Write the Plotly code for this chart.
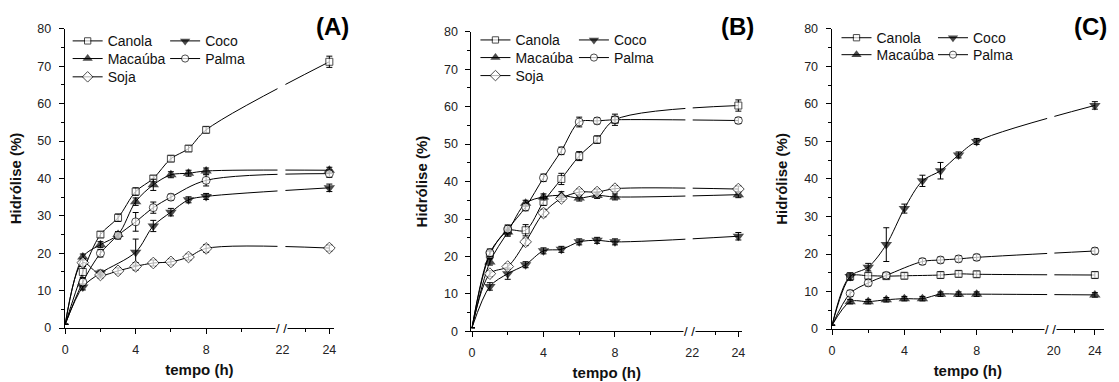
import plotly.graph_objects as go

# ---------------- data (hours / % hydrolysis) ----------------
T = [0, 1, 2, 3, 4, 5, 6, 7, 8, 24]
SERIES = ["Canola", "Coco", "Macaúba", "Palma", "Soja"]

# Panel A
A_canola = [1, 15.0, 25.0, 29.5, 36.5, 40.0, 45.3, 48.0, 53.0, 71.2]
A_coco = [1, 11.0, 14.7, None, 20.3, 27.3, 31.0, 34.3, 35.2, 37.5]
A_macauba = [1, 19.0, 22.3, 25.0, 33.8, 38.3, 41.0, 41.4, 42.0, 42.2]
A_palma = [1, 12.3, 20.0, 24.8, 28.4, 32.2, 35.0, None, 39.5, 41.3]
A_soja = [1, 17.5, 14.2, 15.3, 16.5, 17.4, 17.7, 19.0, 21.3, 21.4]
A_canola_err = [0, 1.5, 0.8, 1.0, 1.0, 0.8, 0.8, 0.8, 0.8, 1.5]
A_coco_err = [0, 0.8, 0.8, 0, 3.5, 1.5, 1.0, 0.8, 0.8, 1.0]
A_macauba_err = [0, 0.8, 0.8, 0.8, 1.0, 1.5, 0.8, 0.8, 0.8, 0.8]
A_palma_err = [0, 1.0, 1.0, 1.0, 2.5, 1.5, 0.8, 0, 1.5, 1.0]
A_soja_err = [0, 1.0, 0.8, 0.8, 1.0, 0.8, 0.8, 0.8, 1.0, 0.8]

# Panel B
B_canola = [1, 20.5, 26.9, 27.0, 34.6, 40.7, 46.8, 51.2, 56.5, 60.3]
B_coco = [1, 12.0, 15.4, 17.8, 21.5, 21.9, 23.9, 24.3, 23.9, 25.4]
B_macauba = [1, 18.5, 26.5, 34.2, 35.9, 36.3, 35.6, 36.3, 35.9, 36.5]
B_palma = [1, 21.0, 27.3, 33.2, 41.0, 48.2, 55.9, 56.2, 56.5, 56.3]
B_soja = [1, 15.4, 17.3, 23.9, 31.6, 35.5, 37.2, 37.2, 38.1, 38.0]
B_canola_err = [0, 1.0, 1.5, 1.5, 1.0, 1.5, 1.2, 1.0, 1.5, 1.5]
B_coco_err = [0, 1.0, 1.5, 0.8, 0.8, 0.8, 0.8, 0.8, 0.8, 1.0]
B_macauba_err = [0, 0.8, 0.8, 0.8, 0.8, 1.0, 0.8, 0.8, 0.8, 0.8]
B_palma_err = [0, 1.0, 1.0, 1.0, 1.0, 1.0, 1.3, 0.8, 0.8, 0.8]
B_soja_err = [0, 0.8, 0.8, 1.0, 1.0, 0.8, 0.8, 0.8, 0.8, 0.8]

# Panel C
C_canola = [1, 14.0, 14.2, 14.1, 14.2, None, 14.4, 14.7, 14.6, 14.4]
C_coco = [1, 14.0, 16.5, 22.5, 32.1, 39.5, 42.2, 46.4, 50.0, 59.6]
C_macauba = [1, 7.3, 7.3, 7.8, 8.1, 8.1, 9.3, 9.3, 9.3, 9.1]
C_palma = [1, 9.5, 12.3, 14.3, None, 18.0, 18.4, 18.7, 19.1, 20.8]
C_canola_err = [0, 0.8, 0.8, 0.8, 0.8, 0, 0.8, 0.8, 0.8, 0.8]
C_coco_err = [0, 1.0, 1.0, 4.5, 1.2, 1.5, 2.2, 0.8, 0.8, 1.0]
C_macauba_err = [0, 0.6, 0.6, 0.6, 0.6, 0.6, 0.6, 0.6, 0.6, 0.6]
C_palma_err = [0, 0.8, 0.8, 0.8, 0, 0.8, 0.8, 0.8, 0.8, 0.8]

X_TICKS_AB = [0, 4, 8, 22, 24]
X_MINOR_AB = [2, 6, 10, 23]
X_TICKS_C = [0, 4, 8, 20, 24]
X_MINOR_C = [2, 6, 10, 22]
Y_TICKS = [0, 10, 20, 30, 40, 50, 60, 70, 80]

# ---------------- styles ----------------
W, H = 1119, 382
STYLE = {
    "Canola": dict(symbol="square", size=7, color="white", line=dict(color="black", width=1)),
    "Coco": dict(symbol="triangle-down", size=10, color="black", line=dict(color="black", width=0)),
    "Macaúba": dict(symbol="triangle-up", size=10, color="black", line=dict(color="black", width=0)),
    "Palma": dict(symbol="circle", size=8, color="white", line=dict(color="black", width=1)),
    "Soja": dict(symbol="diamond", size=9, color="white", line=dict(color="black", width=1)),
}
# legend slot for each series: (column, row)
SLOT = {"Canola": (0, 0), "Coco": (1, 0), "Macaúba": (0, 1), "Palma": (1, 1), "Soja": (0, 2)}

panels = [
    dict(label="(A)", data={"Canola": (A_canola, A_canola_err), "Coco": (A_coco, A_coco_err),
                            "Macaúba": (A_macauba, A_macauba_err), "Palma": (A_palma, A_palma_err),
                            "Soja": (A_soja, A_soja_err)},
         px=(62, 333), py=(333.3, 22.7), b1=12.2, b2=21.9, s2=1.33, xr=(-0.03, 15.27),
         gap=(12.05, 12.5), ticks=X_TICKS_AB, minor=X_MINOR_AB,
         legx=(70, 168), legy=(40, 58.3, 77.3), lab=(331, 20)),
    dict(label="(B)", data={"Canola": (B_canola, B_canola_err), "Coco": (B_coco, B_coco_err),
                            "Macaúba": (B_macauba, B_macauba_err), "Palma": (B_palma, B_palma_err),
                            "Soja": (B_soja, B_soja_err)},
         px=(471, 743), py=(336.7, 25.7), b1=12.17, b2=21.88, s2=1.29, xr=(-0.03, 15.11),
         gap=(11.94, 12.35), ticks=X_TICKS_AB, minor=X_MINOR_AB,
         legx=(480, 579), legy=(39, 57.3, 76), lab=(738, 20)),
    dict(label="(C)", data={"Canola": (C_canola, C_canola_err), "Coco": (C_coco, C_coco_err),
                            "Macaúba": (C_macauba, C_macauba_err), "Palma": (C_palma, C_palma_err)},
         px=(833, 1107), py=(334.3, 22.7), b1=12.18, b2=19.85, s2=0.569, xr=(-0.03, 15.05),
         gap=(11.9, 12.3), ticks=X_TICKS_C, minor=X_MINOR_C,
         legx=(843, 940), legy=(36.7, 54.3), lab=(1093, 20)),
]

LEG_OFF = 21  # distance from legend top to the centre of its single row (px)
FONT = "Liberation Sans, Arial, sans-serif"
fig = go.Figure()
layout = dict(width=W, height=H, margin=dict(l=0, r=0, t=0, b=0),
              paper_bgcolor="white", plot_bgcolor="white", showlegend=True,
              font=dict(family=FONT, color="#111", size=13),
              annotations=[], shapes=[])

leg_n = 2
for i, p in enumerate(panels):
    sfx = "" if i == 0 else str(i + 1)
    xa, ya = "x" + sfx, "y" + sfx
    b1, b2, s2 = p["b1"], p["b2"], p["s2"]

    def pos(t, b1=b1, b2=b2, s2=s2):
        return t if t <= b1 else b1 + (t - b2) * s2

    xs = [pos(t) for t in T]
    for name in SERIES:
        if name not in p["data"]:
            continue
        vals, err = p["data"][name]
        st = STYLE[name]
        sizes = [0] + [st["size"]] * (len(T) - 1)
        lg = "legend%d" % leg_n
        leg_n += 1
        col, row = SLOT[name]
        layout[lg] = dict(x=(p["legx"][col] - 5) / W, y=1 - (p["legy"][row] - LEG_OFF) / H,
                          xanchor="left", yanchor="top", bgcolor="rgba(0,0,0,0)", borderwidth=0,
                          font=dict(size=14, color="#111"), itemwidth=30)
        fig.add_trace(go.Scatter(
            x=xs, y=vals, name=name, mode="lines+markers",
            xaxis=xa, yaxis=ya, legend=lg,
            connectgaps=True, cliponaxis=False,
            line=dict(color="black", width=1, shape="spline", smoothing=0.9),
            marker=dict(symbol=st["symbol"], size=sizes, color=st["color"], line=st["line"]),
            error_y=dict(type="data", array=err, color="black", thickness=1, width=3),
        ))

    x0, x1 = p["px"]
    yb, yt = p["py"]
    layout["xaxis" + sfx] = dict(
        domain=[x0 / W, x1 / W], anchor=ya, range=list(p["xr"]),
        showline=True, linecolor="black", linewidth=1, showgrid=False, zeroline=False,
        ticks="outside", ticklen=5, tickwidth=1, tickcolor="black",
        tickmode="array", tickvals=[pos(t) for t in p["ticks"]], ticktext=[str(t) for t in p["ticks"]],
        minor=dict(tickmode="array", tickvals=[pos(t) for t in p["minor"]], ticks="outside",
                   ticklen=3, tickwidth=1, tickcolor="black"),
        tickfont=dict(size=12.5, color="#222"), ticklabelstandoff=5,
        title=dict(text="<b>tempo (h)</b>", font=dict(size=15, color="#111"), standoff=8),
    )
    layout["yaxis" + sfx] = dict(
        domain=[1 - yb / H, 1 - yt / H], anchor=xa, range=[0, 80],
        showline=True, linecolor="black", linewidth=1, showgrid=False, zeroline=False,
        ticks="outside", ticklen=5, tickwidth=1, tickcolor="black",
        tickmode="array", tickvals=Y_TICKS, ticktext=[str(v) for v in Y_TICKS],
        minor=dict(dtick=5, ticks="outside", ticklen=3, tickwidth=1, tickcolor="black"),
        tickfont=dict(size=12.5, color="#222"), ticklabelstandoff=5,
        title=dict(text="<b>Hidrólise (%)</b>", font=dict(size=15, color="#111"), standoff=12),
    )
    # gap in the curves at the axis break
    layout["shapes"].append(dict(type="rect", xref=xa, yref=ya, x0=p["gap"][0], x1=p["gap"][1],
                                 y0=0.6, y1=79.5, fillcolor="white", line=dict(width=0), layer="above"))
    # break symbol on the x axis
    layout["annotations"].append(dict(xref=xa, yref=ya, x=(p["gap"][0] + p["gap"][1]) / 2, y=0,
                                      text="/ /", showarrow=False, bgcolor="white", borderpad=0,
                                      font=dict(size=13, color="black"), xanchor="center", yanchor="middle"))
    # panel label
    layout["annotations"].append(dict(xref="paper", yref="paper", x=p["lab"][0] / W, y=1 - p["lab"][1] / H,
                                      text="<b>%s</b>" % p["label"], showarrow=False,
                                      font=dict(size=24, color="black"), xanchor="center", yanchor="middle"))

fig.update_layout(**layout)
fig.write_html("out.html")
